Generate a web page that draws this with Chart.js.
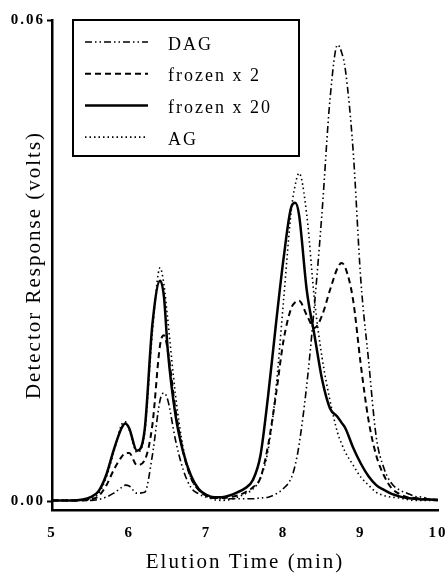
<!DOCTYPE html>
<html>
<head>
<meta charset="utf-8">
<script src="https://cdn.jsdelivr.net/npm/chart.js@4.4.0/dist/chart.umd.min.js"></script>
<style>
    html, body { margin: 0; padding: 0; background: #fff; overflow: hidden; }
    #wrap { width: 445px; height: 576px; position: relative; }
</style>
</head>
<body>
<div id="wrap"><canvas id="chromChart"></canvas></div>
<script>
// elution time (min)
const elutionTimes = [5.0, 5.1, 5.2, 5.3, 5.4, 5.5, 5.6, 5.7, 5.8, 5.9, 5.95, 6.0, 6.1, 6.2, 6.3, 6.4, 6.45,
    6.5, 6.6, 6.7, 6.8, 6.9, 7.0, 7.1, 7.2, 7.3, 7.4, 7.5, 7.6, 7.7, 7.8, 7.9, 8.0, 8.1, 8.15,
    8.2, 8.3, 8.4, 8.5, 8.6, 8.7, 8.75, 8.8, 8.9, 9.0, 9.1, 9.2, 9.3, 9.4, 9.5, 9.6, 9.7, 9.8, 9.9, 10.0];

// detector response (volts)
const dagValues = [0.0001, 0.0001, 0.0001, 0.0001, 0.0001, 0.0001, 0.0002, 0.0005, 0.001, 0.0017, 0.002, 0.0019, 0.001, 0.0011, 0.0057, 0.0126, 0.0135,
    0.0126, 0.0076, 0.0039, 0.0017, 0.0009, 0.0005, 0.0004, 0.0003, 0.0003, 0.0003, 0.0003, 0.0003, 0.0004, 0.0005, 0.0009, 0.0016, 0.0029, 0.0045,
    0.007, 0.0145, 0.0245, 0.0363, 0.05, 0.0569, 0.056, 0.0538, 0.0438, 0.0276, 0.0176, 0.008, 0.0041, 0.0022, 0.0014, 0.001, 0.0006, 0.0005, 0.0002, 0.0002];

const frozen2Values = [0.0001, 0.0001, 0.0001, 0.0001, 0.0001, 0.0002, 0.0006, 0.0019, 0.0039, 0.0055, 0.006, 0.006, 0.0045, 0.0051, 0.0095, 0.0195, 0.0207,
    0.0188, 0.0114, 0.0061, 0.0029, 0.0014, 0.0007, 0.0004, 0.0004, 0.0005, 0.0007, 0.0011, 0.0017, 0.0029, 0.007, 0.0132, 0.0201, 0.0241, 0.0248,
    0.025, 0.0232, 0.0216, 0.0232, 0.0263, 0.0291, 0.0297, 0.0291, 0.0251, 0.017, 0.0101, 0.0057, 0.0032, 0.0016, 0.0009, 0.0005, 0.0004, 0.0003, 0.0002, 0.0002];

const frozen20Values = [0.0001, 0.0001, 0.0001, 0.0001, 0.0002, 0.0005, 0.0012, 0.0032, 0.0064, 0.0091, 0.0097, 0.0091, 0.0063, 0.0089, 0.022, 0.0275, 0.0255,
    0.0188, 0.0107, 0.0061, 0.0032, 0.0015, 0.0008, 0.0005, 0.0005, 0.0007, 0.0011, 0.0016, 0.0026, 0.0057, 0.0132, 0.022, 0.0303, 0.0367, 0.0372,
    0.0357, 0.0263, 0.0207, 0.0151, 0.0116, 0.0105, 0.0098, 0.0091, 0.0067, 0.0047, 0.0031, 0.002, 0.0014, 0.0009, 0.0006, 0.0004, 0.0003, 0.0002, 0.0002, 0.0001];

const agValues = [0.0001, 0.0001, 0.0001, 0.0001, 0.0001, 0.0003, 0.0009, 0.0029, 0.0061, 0.0095, 0.0099, 0.0089, 0.0061, 0.0085, 0.021, 0.0291, 0.027,
    0.0226, 0.0132, 0.0066, 0.0029, 0.0014, 0.0006, 0.0002, 0.0001, 0.0002, 0.0005, 0.0009, 0.0015, 0.0029, 0.0064, 0.0139, 0.0251, 0.0363, 0.0394,
    0.0409, 0.0357, 0.0251, 0.0178, 0.0126, 0.0085, 0.0072, 0.0061, 0.0045, 0.003, 0.002, 0.0011, 0.0007, 0.0005, 0.0004, 0.0002, 0.0001, 0.0001, 0.0001, 0.0001];

const xTickValues = [5, 6, 7, 8, 9, 10];
const yTickValues = [0, 0.06];

function toPoints(values) {
    return elutionTimes.map((t, i) => ({ x: t, y: values[i] }));
}

const serif = '"Liberation Serif", "DejaVu Serif", serif';

// the scanned figure has loosely spaced lettering
const looseText = {
    id: 'looseText',
    beforeDraw(chart) {
        chart.ctx.letterSpacing = '2px';
    }
};

// boxed legend in the upper left, like the original figure
const boxLegend = {
    id: 'boxLegend',
    afterDraw(chart) {
        const ctx = chart.ctx;
        ctx.save();
        ctx.letterSpacing = '2px';
        ctx.fillStyle = '#fff';
        ctx.fillRect(73, 20, 226, 136);
        ctx.setLineDash([]);
        ctx.lineWidth = 2;
        ctx.strokeStyle = '#000';
        ctx.strokeRect(73, 20, 226, 136);
        chart.data.datasets.forEach((ds, i) => {
            const y = 42 + i * 31.7;
            ctx.beginPath();
            ctx.setLineDash(ds.borderDash || []);
            ctx.lineWidth = ds.borderWidth;
            ctx.moveTo(85, y);
            ctx.lineTo(148, y);
            ctx.stroke();
            ctx.setLineDash([]);
            ctx.fillStyle = '#000';
            ctx.font = '18px ' + serif;
            ctx.textBaseline = 'middle';
            ctx.fillText(ds.label, 168, y + 3);
        });
        ctx.restore();
    }
};

const ctx = document.getElementById('chromChart').getContext('2d');
new Chart(ctx, {
    type: 'line',
    data: {
        datasets: [{
            label: 'DAG',
            data: toPoints(dagValues),
            borderColor: '#000',
            borderWidth: 1.6,
            borderDash: [7, 3, 1.5, 3, 1.5, 3]
        }, {
            label: 'frozen x 2',
            data: toPoints(frozen2Values),
            borderColor: '#000',
            borderWidth: 2,
            borderDash: [6, 4]
        }, {
            label: 'frozen x 20',
            data: toPoints(frozen20Values),
            borderColor: '#000',
            borderWidth: 2.5,
            borderDash: []
        }, {
            label: 'AG',
            data: toPoints(agValues),
            borderColor: '#000',
            borderWidth: 1.6,
            borderDash: [1.5, 3]
        }]
    },
    options: {
        responsive: true,
        maintainAspectRatio: false,
        animation: false,
        layout: { autoPadding: false, padding: { top: 20, right: 7, left: 0, bottom: 0 } },
        elements: {
            point: { radius: 0 },
            line: { cubicInterpolationMode: 'monotone', fill: false }
        },
        plugins: {
            legend: { display: false },
            tooltip: { enabled: false }
        },
        scales: {
            x: {
                type: 'linear',
                min: 5,
                max: 10,
                afterBuildTicks: scale => { scale.ticks = xTickValues.map(v => ({ value: v })); },
                afterFit: scale => {
                    scale.height = 66;
                    scale.paddingLeft = 0;
                    scale.paddingRight = 0;
                },
                border: { color: '#000', width: 2.5 },
                grid: { drawOnChartArea: false, drawTicks: false },
                ticks: {
                    padding: 14,
                    color: '#000',
                    font: { family: serif, size: 15, weight: 'bold' },
                    maxRotation: 0
                },
                title: {
                    display: true,
                    text: 'Elution Time (min)',
                    color: '#000',
                    font: { family: serif, size: 21 },
                    padding: { top: 2, bottom: 1 }
                }
            },
            y: {
                min: -0.0011,
                max: 0.06,
                afterBuildTicks: scale => { scale.ticks = yTickValues.map(v => ({ value: v })); },
                afterFit: scale => { scale.width = 52; },
                border: { color: '#000', width: 2.5 },
                grid: { drawOnChartArea: false, tickLength: 5, tickColor: '#000', tickWidth: 2 },
                ticks: {
                    padding: 2,
                    color: '#000',
                    font: { family: serif, size: 15, weight: 'bold' },
                    callback: v => v.toFixed(2)
                },
                title: {
                    display: true,
                    text: 'Detector Response (volts)',
                    color: '#000',
                    font: { family: serif, size: 21 },
                    padding: { top: 22, bottom: 0 }
                }
            }
        }
    },
    plugins: [looseText, boxLegend]
});
</script>
</body>
</html>
